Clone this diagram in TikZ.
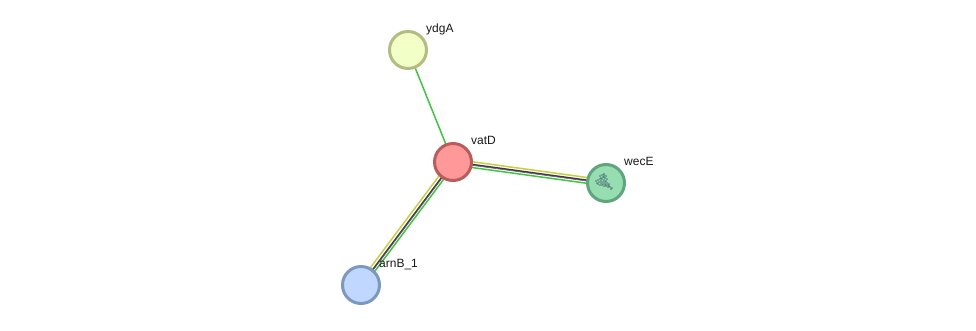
\documentclass[tikz,border=0pt]{standalone}
\usepackage{fontspec}
\setmainfont{Liberation Sans}
\usetikzlibrary{calc,backgrounds}
\definecolor{edgeGreen}{HTML}{3FC63F}
\definecolor{edgeYellow}{HTML}{C3D23C}
\definecolor{edgeDark}{HTML}{3A3A3A}
\definecolor{edgePurple}{HTML}{7A4A8C}
\definecolor{glyph}{HTML}{34566E}
\definecolor{vatLine}{HTML}{B85C5C}
\definecolor{vatFill}{HTML}{FF9999}
\definecolor{ydgLine}{HTML}{B5BC82}
\definecolor{ydgFill}{HTML}{F2FFC6}
\definecolor{wecLine}{HTML}{5FA57D}
\definecolor{wecFill}{HTML}{96DDB0}
\definecolor{arnLine}{HTML}{7C97C0}
\definecolor{arnFill}{HTML}{C0D8FF}
\tikzset{
  x=1pt, y=-1pt,
  protein/.style n args={2}{circle, draw=#1, fill=#2, line width=3pt, inner sep=0pt, outer sep=0pt, minimum size=37pt},
  lab/.style={font=\fontsize{12}{14}\selectfont, text=black!90, inner sep=0pt, anchor=base west},
  link/.style={line width=1.5pt, line cap=butt},
  thinlink/.style={line width=0.6pt, line cap=butt},
}
\begin{document}
\begin{tikzpicture}
\useasboundingbox (0,0) rectangle (976,330);

% proteins
\node[protein={vatLine}{vatFill}] (vatD) at (453,162) {};
\node[protein={ydgLine}{ydgFill}] (ydgA) at (408,50) {};
\node[protein={wecLine}{wecFill}] (wecE) at (606,183) {};
\node[protein={arnLine}{arnFill}] (arnB) at (361,285) {};

% evidence lines, kept underneath the proteins
\begin{scope}[on background layer]
  \draw[link, edgeGreen] (ydgA.center) -- (vatD.center);
  \draw[link, edgeYellow] ($(vatD.center)+(0,-2.9)$) -- ($(wecE.center)+(0,-2.9)$);
  \draw[link, edgeDark] ($(vatD.center)+(0,-0.2)$) -- ($(wecE.center)+(0,-0.2)$);
  \draw[thinlink, edgePurple] ($(vatD.center)+(0,0.7)$) -- ($(wecE.center)+(0,0.7)$);
  \draw[link, edgeGreen] ($(vatD.center)+(0,2.9)$) -- ($(wecE.center)+(0,2.9)$);
  \draw[link, edgeYellow] ($(vatD.center)+(-2.3,-1.7)$) -- ($(arnB.center)+(-2.3,-1.7)$);
  \draw[link, edgeDark] ($(vatD.center)+(0.1,0.1)$) -- ($(arnB.center)+(0.1,0.1)$);
  \draw[thinlink, edgePurple] ($(vatD.center)+(0.7,0.5)$) -- ($(arnB.center)+(0.7,0.5)$);
  \draw[link, edgeGreen] ($(vatD.center)+(2.3,1.7)$) -- ($(arnB.center)+(2.3,1.7)$);
\end{scope}

% structure thumbnail inside wecE
\foreach \px/\py in {600/176,602/175,604/175,606/176,601/178,603/177,605/178,607/179,604/180,
  596/181,598/180,599/182,601/181,603/182,605/182,607/183,609/184,598/184,600/185,602/185,
  604/186,606/186,608/187,610/187,612/188,603/184,606/185,609/186,604/174,600/179,
  597/183,601/183,605/184,608/185,611/189,602/179,606/181,604/177}
  \fill[glyph, opacity=.8] (\px,\py) circle[radius=.8];

% labels
\node[lab] (tV) at (471,144) {vatD};
\node[lab] (tY) at (426,32) {ydgA};
\node[lab] (tW) at (624,165) {wecE};
\node[lab] (tA) at (379,267) {arnB\_1};
\end{tikzpicture}
\end{document}
